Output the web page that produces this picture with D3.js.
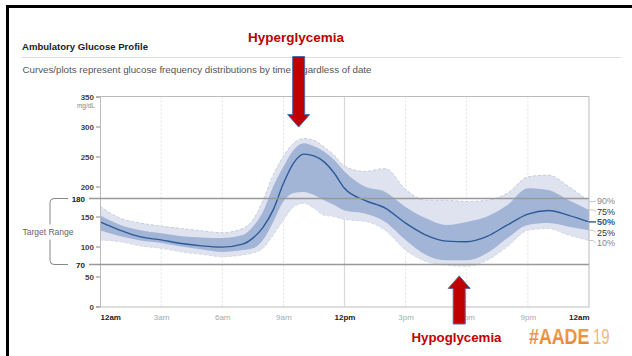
<!DOCTYPE html>
<html>
<head>
<meta charset="utf-8">
<script src="https://cdn.jsdelivr.net/npm/d3@7"></script>
<style>
  body { margin: 0; background: #fff; }
  svg { display: block; font-family: "Liberation Sans", Arial, sans-serif; }
</style>
</head>
<body>
<div id="chart"></div>
<script>
const width = 632, height = 356;

// hours of day (0 = 12am ... 24 = 12am)
const hours = [0, 1, 2, 3, 4, 5, 6, 7, 7.5, 8, 8.5, 9, 9.5, 10, 10.5, 11, 11.5, 12, 13, 14, 15, 16, 17, 18, 19, 20, 21, 22, 23, 24];
const p10 = [111, 108, 101, 97, 91, 87, 83, 86, 89, 97, 119, 144, 166, 172, 164, 152, 150, 145, 142, 127, 94, 75, 69, 67, 77, 100, 127, 130, 119, 110];
const p25 = [127, 117, 110, 106, 100, 95, 91, 94, 97, 111, 141, 175, 189, 191, 186, 177, 169, 160, 155, 141, 111, 86, 77, 77, 89, 114, 136, 139, 133, 127];
const p50 = [141, 127, 116, 111, 105, 101, 99, 104, 114, 132, 161, 205, 239, 254, 251, 241, 222, 197, 177, 164, 139, 119, 109, 108, 117, 136, 154, 160, 152, 141];
const p75 = [152, 136, 127, 122, 117, 115, 114, 119, 133, 158, 200, 233, 261, 272, 267, 258, 244, 225, 200, 191, 166, 147, 136, 141, 150, 169, 197, 194, 177, 161];
const p90 = [167, 147, 139, 134, 130, 126, 123, 130, 144, 177, 219, 250, 272, 280, 277, 266, 252, 234, 225, 230, 195, 177, 177, 175, 177, 189, 216, 219, 200, 175];

const yTicks = [0, 50, 100, 150, 200, 250, 300, 350];
const targetRange = [70, 180];
const xTickHours = [0, 3, 6, 9, 12, 15, 18, 21, 24];
const xTickLabels = ["12am", "3am", "6am", "9am", "12pm", "3pm", "6pm", "9pm", "12am"];
const pctLabels = ["90%", "75%", "50%", "25%", "10%"];

const x = d3.scaleLinear().domain([0, 24]).range([100, 589]);
const y = d3.scaleLinear().domain([0, 350]).range([306.5, 96.5]);

const svg = d3.select("#chart").append("svg")
    .attr("width", width)
    .attr("height", height);

svg.append("rect").attr("width", width).attr("height", height).attr("fill", "#fff");

// slide frame
svg.append("rect")
    .attr("x", 7.5).attr("y", 6.5)
    .attr("width", 640).attr("height", 360)
    .attr("fill", "none").attr("stroke", "#000").attr("stroke-width", 3);

// header
svg.append("text")
    .attr("x", 22).attr("y", 50)
    .attr("font-size", 9.5).attr("font-weight", "bold").attr("fill", "#222")
    .attr("textLength", 126).attr("lengthAdjust", "spacingAndGlyphs")
    .text("Ambulatory Glucose Profile");
svg.append("line")
    .attr("x1", 22).attr("x2", 621).attr("y1", 57.5).attr("y2", 57.5)
    .attr("stroke", "#ddd");
svg.append("text")
    .attr("x", 22.5).attr("y", 73)
    .attr("font-size", 9).attr("fill", "#555")
    .attr("textLength", 349).attr("lengthAdjust", "spacingAndGlyphs")
    .text("Curves/plots represent glucose frequency distributions by time regardless of date");

// grid
const grid = svg.append("g");
grid.selectAll("line")
    .data(xTickHours.slice(1, -1))
    .enter().append("line")
    .attr("x1", d => x(d)).attr("x2", d => x(d))
    .attr("y1", y(350)).attr("y2", y(0))
    .attr("stroke", d => d === 12 ? "#d8d8d8" : "#e0e0e0")
    .attr("stroke-width", d => d === 12 ? 1.2 : 1)
    .attr("stroke-dasharray", d => d === 12 ? null : "2,2");

// bands
const area = (lo, hi) => d3.area()
    .x((d, i) => x(hours[i]))
    .y0((d, i) => y(lo[i]))
    .y1((d, i) => y(hi[i]))
    .curve(d3.curveMonotoneX);
const line = s => d3.line()
    .x((d, i) => x(hours[i]))
    .y((d, i) => y(s[i]))
    .curve(d3.curveMonotoneX)(hours);

svg.append("path")
    .attr("d", area(p10, p90)(hours))
    .attr("fill", "#dfe2ef");
svg.append("path")
    .attr("d", line(p90))
    .attr("fill", "none").attr("stroke", "#c6cce0").attr("stroke-dasharray", "3,2");
svg.append("path")
    .attr("d", line(p10))
    .attr("fill", "none").attr("stroke", "#d3d8e8").attr("stroke-dasharray", "3,2");
svg.append("path")
    .attr("d", area(p25, p75)(hours))
    .attr("fill", "#a3b5d7");
svg.append("path")
    .attr("d", line(p50))
    .attr("fill", "none").attr("stroke", "#2c5a98").attr("stroke-width", 1.4);

// frame of plot
svg.append("line").attr("x1", x(0)).attr("x2", x(24)).attr("y1", y(350)).attr("y2", y(350)).attr("stroke", "#bbb");
svg.append("line").attr("x1", x(24)).attr("x2", x(24)).attr("y1", y(350)).attr("y2", y(0)).attr("stroke", "#bbb");

// y axis
const yAxis = svg.append("g")
    .attr("transform", `translate(${x(0)},0)`)
    .call(d3.axisLeft(y).tickValues(yTicks).tickSize(4).tickPadding(2));
yAxis.select(".domain").attr("stroke", "#bbb");
yAxis.selectAll(".tick line").attr("stroke", "#888");
yAxis.selectAll(".tick text")
    .attr("font-family", "Liberation Sans, Arial, sans-serif")
    .attr("font-size", 8).attr("font-weight", "bold").attr("fill", "#444");
svg.append("text")
    .attr("x", 95).attr("y", y(350) + 11.5)
    .attr("text-anchor", "end").attr("font-size", 6.5).attr("fill", "#888")
    .text("mg/dL");

// x axis
const xAxis = svg.append("g")
    .attr("transform", `translate(0,${y(0)})`)
    .call(d3.axisBottom(x).tickValues(xTickHours).tickSize(0).tickPadding(8)
        .tickFormat((d, i) => xTickLabels[i]));
xAxis.select(".domain").attr("stroke", "#bbb");
xAxis.selectAll(".tick text")
    .attr("font-family", "Liberation Sans, Arial, sans-serif")
    .attr("font-size", 8)
    .attr("font-weight", d => d % 12 === 0 ? "bold" : "normal")
    .attr("fill", d => d % 12 === 0 ? "#222" : "#aaa")
    .attr("text-anchor", d => d === 0 ? "start" : d === 24 ? "end" : "middle");

// target range lines
svg.selectAll(".target")
    .data(targetRange)
    .enter().append("line")
    .attr("x1", 89).attr("x2", x(24))
    .attr("y1", d => y(d)).attr("y2", d => y(d))
    .attr("stroke", "#999").attr("stroke-width", 1.5);
svg.selectAll(".targetLabel")
    .data(targetRange)
    .enter().append("text")
    .attr("x", 85).attr("y", d => y(d) + 3)
    .attr("text-anchor", "end").attr("font-size", 8).attr("font-weight", "bold").attr("fill", "#222")
    .text(d => d);
const yt = y(180), yb = y(70), bx = 50;
svg.append("path")
    .attr("d", `M68,${yt}H${bx + 4}Q${bx},${yt} ${bx},${yt + 4}V${(yt + yb) / 2 - 7}`
        + `M${bx},${(yt + yb) / 2 + 8}V${yb - 4}Q${bx},${yb} ${bx + 4},${yb}H68`)
    .attr("fill", "none").attr("stroke", "#888");
svg.append("text")
    .attr("x", 48).attr("y", (yt + yb) / 2 + 3)
    .attr("text-anchor", "middle").attr("font-size", 8.5).attr("fill", "#666")
    .text("Target Range");

// percentile labels on right
const ends = [p90, p75, p50, p25, p10].map(s => s[s.length - 1]);
const midY = y(p50[p50.length - 1]);
const pct = svg.append("g");
ends.forEach((v, i) => {
    const ly = midY + (i - 2) * 10.4;
    pct.append("path")
        .attr("d", `M${x(24)},${y(v)}L${x(24) + 4},${y(v)}L${x(24) + 7},${ly}`)
        .attr("fill", "none")
        .attr("stroke", i === 2 ? "#2c5a98" : "#bbb")
        .attr("stroke-width", i === 2 ? 1.4 : 0.8);
    pct.append("text")
        .attr("x", 597).attr("y", ly + 3.2)
        .attr("font-size", 9)
        .attr("font-weight", i === 2 ? "bold" : "normal")
        .attr("fill", i === 2 ? "#2c5aa0" : (i % 2 ? "#333" : "#888"))
        .text(pctLabels[i]);
});

// annotations
function arrow(cx, tipY, tailY, dir) {
    const hw = 6, hh = 12.5, hdw = 11;
    const baseY = tipY - dir * hh;
    const pts = [
        [cx - hw, tailY], [cx - hw, baseY], [cx - hdw, baseY], [cx, tipY],
        [cx + hdw, baseY], [cx + hw, baseY], [cx + hw, tailY]
    ];
    svg.append("polygon")
        .attr("points", pts.map(p => p.join(",")).join(" "))
        .attr("fill", "#c00000").attr("stroke", "#4f6aa8").attr("stroke-width", 1);
}
arrow(x(9.75), y(299), 56.5, 1);
arrow(x(17.63), y(51), 324, -1);

svg.append("text")
    .attr("x", 248).attr("y", 42)
    .attr("font-size", 13.5).attr("font-weight", "bold").attr("fill", "#c00000")
    .attr("textLength", 96).attr("lengthAdjust", "spacingAndGlyphs")
    .text("Hyperglycemia");
svg.append("text")
    .attr("x", 411.5).attr("y", 341.5)
    .attr("font-size", 13.5).attr("font-weight", "bold").attr("fill", "#c00000")
    .attr("textLength", 90).attr("lengthAdjust", "spacingAndGlyphs")
    .text("Hypoglycemia");

const defs = svg.append("defs");
const grad = defs.append("linearGradient").attr("id", "orange").attr("x1", 0).attr("x2", 0).attr("y1", 0).attr("y2", 1);
grad.append("stop").attr("offset", "0%").attr("stop-color", "#f3a453");
grad.append("stop").attr("offset", "100%").attr("stop-color", "#e8832c");
svg.append("text")
    .attr("transform", "translate(529,343.5) scale(0.81,1)")
    .attr("font-size", 22).attr("font-weight", "bold").attr("fill", "url(#orange)")
    .text("#AADE");
svg.append("text")
    .attr("transform", "translate(593,343.5) scale(0.68,1)")
    .attr("font-size", 22).attr("fill", "#f2b77c")
    .text("19");
</script>
</body>
</html>
